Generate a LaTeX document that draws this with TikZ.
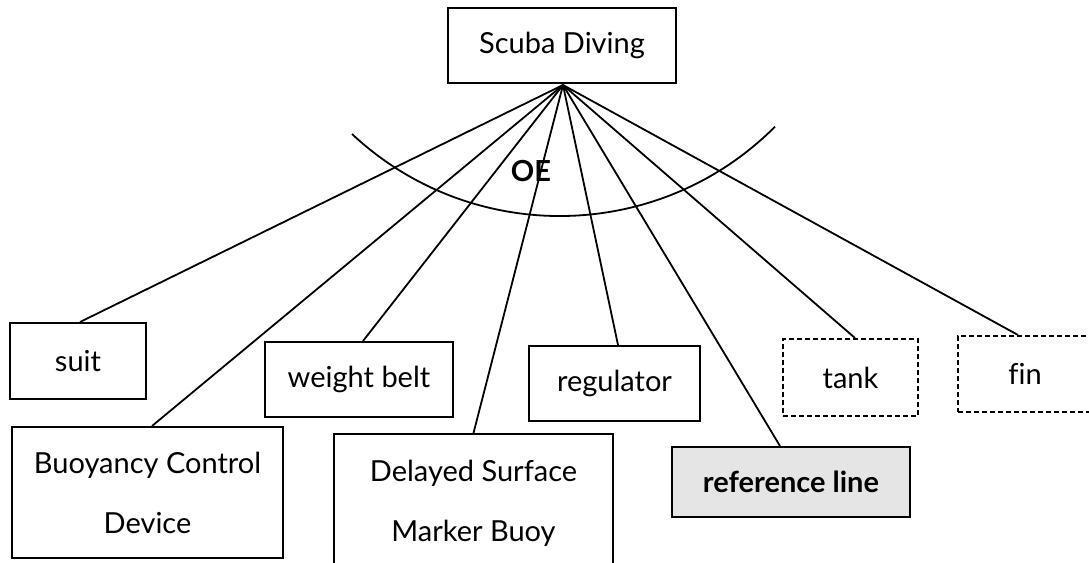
\documentclass[tikz,border=0pt]{standalone}
\usepackage{fontspec}
\setmainfont[Ligatures=NoCommon]{Lato}
\newcommand{\lblfont}{\fontsize{29}{60}\selectfont}
\begin{document}
\begin{tikzpicture}[x=1pt,y=-1pt,
  box/.style={draw, line width=2pt, inner sep=0pt, font=\lblfont, align=center},
  dbox/.style={box, dash pattern=on 5pt off 3pt},
  conn/.style={line width=1.8pt},
  arcline/.style={line width=1.8pt}]
\useasboundingbox (0,0) rectangle (1089,562);
\clip (0,0) rectangle (1089,562);
\fill[white] (0,0) rectangle (1089,562);

\node[box, minimum width=228pt, minimum height=75pt] (scuba) at (562,45.5) {Scuba Diving};
\node[box, minimum width=136pt, minimum height=76pt] (suit) at (78,361) {suit};
\node[box, minimum width=271pt, minimum height=131pt] (bcd) at (147.5,492.5) {Buoyancy Control\\Device};
\node[box, minimum width=188pt, minimum height=75pt] (belt) at (359,379.5) {weight belt};
\node[box, minimum width=279pt, minimum height=138pt] (dsmb) at (473.5,503) {Delayed Surface\\Marker Buoy};
\node[box, minimum width=171pt, minimum height=75pt] (reg) at (614.5,383.5) {regulator};
\node[box, fill=black!10, minimum width=238pt, minimum height=70pt, font=\lblfont\bfseries] (ref) at (791,482) {reference line};
\node[dbox, minimum width=135pt, minimum height=77pt] (tank) at (850.5,377.5) {tank};
\node[dbox, minimum width=134pt, minimum height=76pt] (fin) at (1025,374) {fin};

\draw[arcline] (352,134) arc[start angle=133.1, end angle=44.9, radius=304];
\node[font=\lblfont\bfseries, inner sep=0pt] (oe) at (531,171) {OE};

\coordinate (apex) at (563,85);
\draw[conn] (apex) -- ([xshift=2pt]suit.north);
\draw[conn] (apex) -- ([xshift=4.5pt]bcd.north);
\draw[conn] (apex) -- ([xshift=4pt]belt.north);
\draw[conn] (apex) -- (dsmb.north);
\draw[conn] (apex) -- ([xshift=3.5pt]reg.north);
\draw[conn] (apex) -- ([xshift=-11pt]ref.north);
\draw[conn] (apex) -- ([xshift=4.5pt]tank.north);
\draw[conn] (apex) -- ([xshift=-7pt]fin.north);
\end{tikzpicture}
\end{document}
